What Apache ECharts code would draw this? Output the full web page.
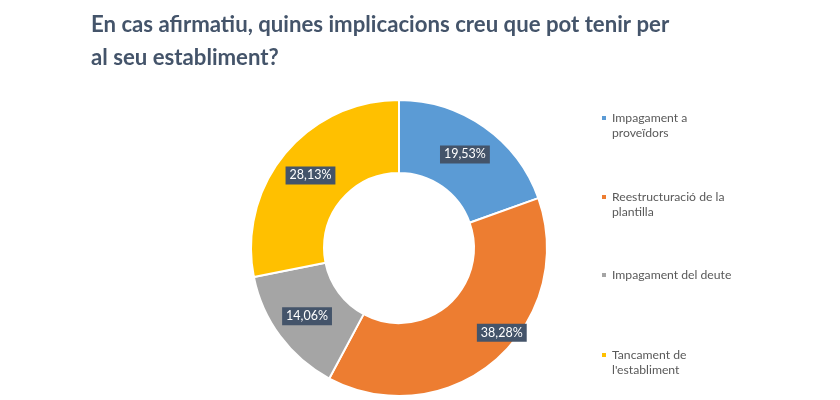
<!DOCTYPE html>
<html><head><meta charset="utf-8">
<script src="https://cdn.jsdelivr.net/npm/echarts@6/dist/echarts.min.js"></script>
<style>html,body{margin:0;padding:0;background:#fff}#c{width:840px;height:400px}</style>
</head><body><div id="c"></div>
<script>
const titleText = "En cas afirmatiu, quines implicacions creu que pot tenir per al seu establiment?";
const categories = ["Impagament a proveïdors", "Reestructuració de la plantilla", "Impagament del deute", "Tancament de l'establiment"];
const percentValues = [19.53, 38.28, 14.06, 28.13];
const colors = ["#5B9BD5", "#ED7D31", "#A5A5A5", "#FFC000"];

const FONT = "Lato";
const LH = 15;
const legendLines = [2, 2, 1, 2];
const legendCenters = [118, 197, 275, 355];
const legends = categories.map((name, i) => ({
  data: [name],
  orient: 'vertical',
  left: 600,
  top: legendCenters[i] - LH / 2 - (legendLines[i] - 1) * LH,
  padding: 0,
  icon: 'rect',
  itemWidth: 6,
  itemHeight: 6,
  selectedMode: false,
  formatter: n => '\n'.repeat(legendLines[i] - 1) + n,
  textStyle: {
    fontFamily: FONT, fontSize: 12.2, color: '#595959',
    width: 122, overflow: 'break', lineHeight: LH
  }
}));

const labelOffsets = [[0, 0], [28, -2], [0, 0], [0, 0]];

const chart = echarts.init(document.getElementById('c'), null, {renderer: 'canvas'});
chart.setOption({
  animation: false,
  color: colors,
  title: {
    text: titleText,
    left: 86, top: 3,
    textStyle: {
      fontFamily: FONT, fontWeight: 'bold', fontSize: 22.2, color: '#44546A',
      width: 600, overflow: 'break', lineHeight: 33
    }
  },
  legend: legends,
  series: [{
    type: 'pie',
    center: [399, 248],
    radius: [75, 148],
    startAngle: 90,
    clockwise: true,
    avoidLabelOverlap: false,
    itemStyle: { borderColor: '#fff', borderWidth: 2 },
    label: {
      show: true,
      position: 'inside',
      formatter: p => p.value.toFixed(2).replace('.', ',') + '%',
      fontFamily: FONT, fontSize: 12.5, color: '#fff',
      backgroundColor: '#44546A',
      padding: [3, 4, 2, 4]
    },
    labelLine: { show: false },
    emphasis: { disabled: true },
    data: categories.map((name, i) => ({ name, value: percentValues[i], label: { offset: labelOffsets[i] } }))
  }]
});
</script></body></html>
